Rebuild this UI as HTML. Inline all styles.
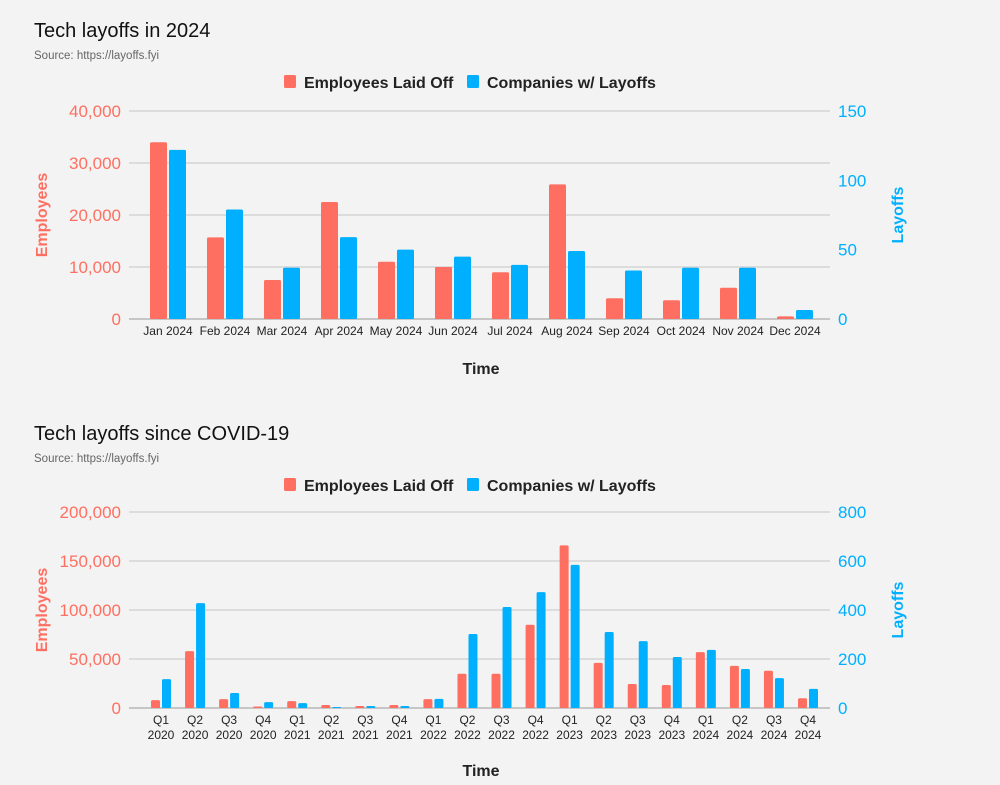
<!DOCTYPE html>
<html><head><meta charset="utf-8"><style>
html,body{margin:0;padding:0;background:#f3f3f3;}
svg{display:block;font-family:"Liberation Sans",Arial,sans-serif;}
</style></head><body>
<svg id="s" width="1000" height="785" viewBox="0 0 1000 785">
<rect width="1000" height="785" fill="#f3f3f3"/>
</svg>
<script>
const months = ["Jan 2024","Feb 2024","Mar 2024","Apr 2024","May 2024","Jun 2024","Jul 2024","Aug 2024","Sep 2024","Oct 2024","Nov 2024","Dec 2024"];
const employees2024 = [34000,15700,7500,22500,11000,10000,9000,25900,4000,3600,6000,500];
const companies2024 = [122,79,37,59,50,45,39,49,35,37,37,6.5];
const leftTicks1 = [0,10000,20000,30000,40000];
const rightTicks1 = [0,50,100,150];

const quarters = ["Q1|2020","Q2|2020","Q3|2020","Q4|2020","Q1|2021","Q2|2021","Q3|2021","Q4|2021","Q1|2022","Q2|2022","Q3|2022","Q4|2022","Q1|2023","Q2|2023","Q3|2023","Q4|2023","Q1|2024","Q2|2024","Q3|2024","Q4|2024"];
const employeesQ = [8000,58000,9000,1500,7000,3000,2000,3000,9000,35000,35000,85000,166000,46000,24500,23500,57000,43000,38000,10000];
const companiesQ = [118,428,61,24,20,4,8,8,37,302,412,473,584,310,273,208,237,159,122,78];
const leftTicks2 = [0,50000,100000,150000,200000];
const rightTicks2 = [0,200,400,600,800];

const RED="#ff6f61", BLUE="#00b0ff", NS="http://www.w3.org/2000/svg";
const svg=document.getElementById('s');
function el(tag,attrs,parent,text){const e=document.createElementNS(NS,tag);for(const k in attrs)e.setAttribute(k,attrs[k]);if(text!==undefined)e.textContent=text;(parent||svg).appendChild(e);return e;}

function chart(o){
  const g=el('g',{});
  
  
  let t=el('text',{x:34,y:o.top+37,'font-size':20,fill:'#111'},g,o.title);
  
  t=el('text',{x:34,y:o.top+59,'font-size':11.5,fill:'#666'},g,'Source: https://layoffs.fyi');
  
  // legend
  const ly=o.top+82;
  let r=el('rect',{x:284,y:ly-7,width:12,height:13,rx:1.5,fill:RED},g);
  
  t=el('text',{x:304,y:ly+6,'font-size':16,'font-weight':'bold',fill:'#222'},g,'Employees Laid Off');
  
  r=el('rect',{x:467,y:ly-7,width:12,height:13,rx:1.5,fill:BLUE},g);
  
  t=el('text',{x:487,y:ly+6,'font-size':16,'font-weight':'bold',fill:'#222'},g,'Companies w/ Layoffs');
  
  const y0=o.y0,y1=o.y1,x0=129,x1=830;
  const lMax=o.lt[o.lt.length-1], rMax=o.rt[o.rt.length-1];
  const yl=v=>y0-(v/lMax)*(y0-y1), yr=v=>y0-(v/rMax)*(y0-y1);
  o.lt.forEach(v=>{
    const y=yl(v);
    const ln=el('line',{x1:x0,x2:x1,y1:y,y2:y,stroke:v===0?'#999':'#c4c4c4','stroke-width':1},g);
    
    const tx=el('text',{x:121,y:y+6,'font-size':17,fill:RED,'text-anchor':'end'},g,v.toLocaleString('en-US'));
    
  });
  o.rt.forEach(v=>{
    const tx=el('text',{x:838,y:yr(v)+6,'font-size':17,fill:BLUE},g,String(v));
    
  });
  t=el('text',{x:0,y:0,'font-size':16,'font-weight':'bold',fill:RED,'text-anchor':'middle',transform:`translate(47,${(y0+y1)/2}) rotate(-90)`},g,'Employees');
  
  t=el('text',{x:0,y:0,'font-size':16,'font-weight':'bold',fill:BLUE,'text-anchor':'middle',transform:`translate(903,${(y0+y1)/2}) rotate(-90)`},g,'Layoffs');
  
  const n=o.cats.length, step=(o.cLast-o.cFirst)/(n-1);
  o.cats.forEach((c,i)=>{
    const cx=o.cFirst+i*step;
    const b1=el('rect',{x:cx-o.bw-1,y:yl(o.a[i]),width:o.bw,height:y0-yl(o.a[i]),rx:1.5,fill:RED},g);
    
    const b2=el('rect',{x:cx+1,y:yr(o.b[i]),width:o.bw,height:y0-yr(o.b[i]),rx:1.5,fill:BLUE},g);
    
    const parts=c.split('|');
    parts.forEach((p,k)=>{
      const tx=el('text',{x:cx,y:y0+16+k*15,'font-size':12,fill:'#222','text-anchor':'middle'},g,p);
      
    });
  });
  t=el('text',{x:481,y:o.timeY,'font-size':16,'font-weight':'bold',fill:'#222','text-anchor':'middle'},g,'Time');
  
}
chart({name:'chart-2024',title:'Tech layoffs in 2024',top:0,y0:319,y1:111,lt:leftTicks1,rt:rightTicks1,cats:months,a:employees2024,b:companies2024,cFirst:168,cLast:795,bw:17,timeY:374});
chart({name:'chart-since-covid',title:'Tech layoffs since COVID-19',top:403,y0:708,y1:512,lt:leftTicks2,rt:rightTicks2,cats:quarters,a:employeesQ,b:companiesQ,cFirst:161,cLast:808,bw:9,timeY:776});
</script>
</body></html>
